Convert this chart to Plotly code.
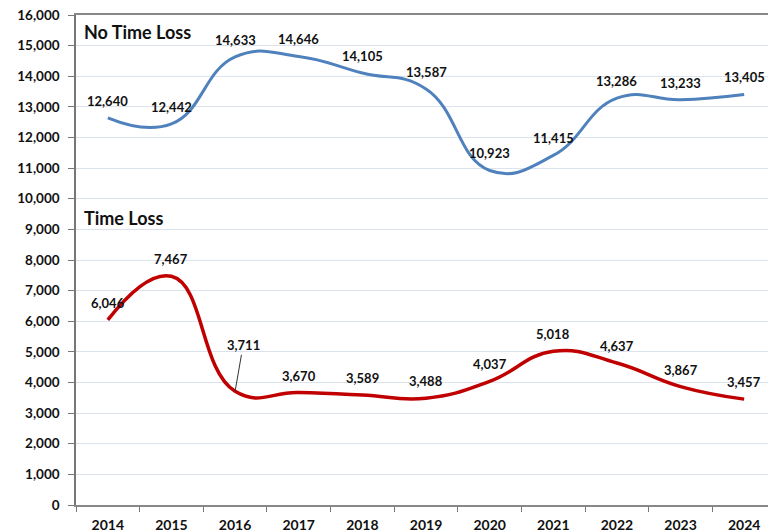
import plotly.graph_objects as go

years = ["2014", "2015", "2016", "2017", "2018", "2019", "2020", "2021", "2022", "2023", "2024"]
no_time_loss = [12640, 12442, 14633, 14646, 14105, 13587, 10923, 11415, 13286, 13233, 13405]
time_loss = [6046, 7467, 3711, 3670, 3589, 3488, 4037, 5018, 4637, 3867, 3457]
y_ticks = list(range(0, 16001, 1000))
y_tick_text = [f"{v:,}" for v in y_ticks]

FONT = "Lato"
BLUE = "#4f81bd"
RED = "#c00000"
LABEL_FONT = dict(family=FONT, size=13, color="#111")

fig = go.Figure()
fig.add_trace(go.Scatter(x=years, y=no_time_loss, mode="lines", name="No Time Loss",
                         line=dict(color=BLUE, width=3, shape="spline", smoothing=1.3),
                         hoverinfo="x+y"))
fig.add_trace(go.Scatter(x=years, y=time_loss, mode="lines", name="Time Loss",
                         line=dict(color=RED, width=3.5, shape="spline", smoothing=1.3),
                         hoverinfo="x+y"))

annotations = []
for i, v in enumerate(no_time_loss):
    annotations.append(dict(x=i, y=v, text=f"<b>{v:,}</b>", showarrow=False, yshift=17,
                            font=LABEL_FONT, xref="x", yref="y"))
for i, v in enumerate(time_loss):
    if i == 2:
        annotations.append(dict(x=i, y=v, text=f"<b>{v:,}</b>", showarrow=True, arrowhead=0,
                                arrowwidth=1, arrowcolor="#333", ax=8, ay=-46,
                                font=LABEL_FONT, xref="x", yref="y"))
    else:
        annotations.append(dict(x=i, y=v, text=f"<b>{v:,}</b>", showarrow=False, yshift=17,
                                font=LABEL_FONT, xref="x", yref="y"))

annotations.append(dict(x=0.0, y=15450, xref="paper", yref="y", text="<b>No Time Loss</b>",
                        showarrow=False, xanchor="left", xshift=6,
                        font=dict(family=FONT, size=18, color="#111")))
annotations.append(dict(x=0.0, y=9380, xref="paper", yref="y", text="<b>Time Loss</b>",
                        showarrow=False, xanchor="left", xshift=6,
                        font=dict(family=FONT, size=18, color="#111")))

fig.update_layout(
    width=768, height=524,
    margin=dict(l=68, r=0, t=7, b=27),
    paper_bgcolor="white", plot_bgcolor="white",
    showlegend=False,
    annotations=annotations,
    font=dict(family=FONT, size=13, color="#111"),
)
fig.update_xaxes(type="category", tickson="boundaries", ticks="outside", ticklen=5,
                 tickcolor="#777", showline=True, linecolor="#888", linewidth=1.5,
                 mirror=True, showgrid=False, tickvals=years, automargin=False,
                 ticktext=[f"<b>{y}</b>" for y in years], ticklabelstandoff=6,
                 tickfont=dict(family=FONT, size=14, color="#111"), range=[-0.5, 10.5])
fig.update_yaxes(range=[0, 16000], tickvals=y_ticks, ticktext=[f"<b>{t}</b>" for t in y_tick_text],
                 ticks="outside", ticklen=6, tickcolor="#777", showline=True,
                 linecolor="#777", linewidth=1.5, showgrid=True, gridcolor="#dbe3ee",
                 gridwidth=1, zeroline=False, ticklabelstandoff=6, ticklabeloverflow="allow",
                 automargin=False, tickfont=dict(family=FONT, size=13.5, color="#111"))

fig.write_html("out.html")
